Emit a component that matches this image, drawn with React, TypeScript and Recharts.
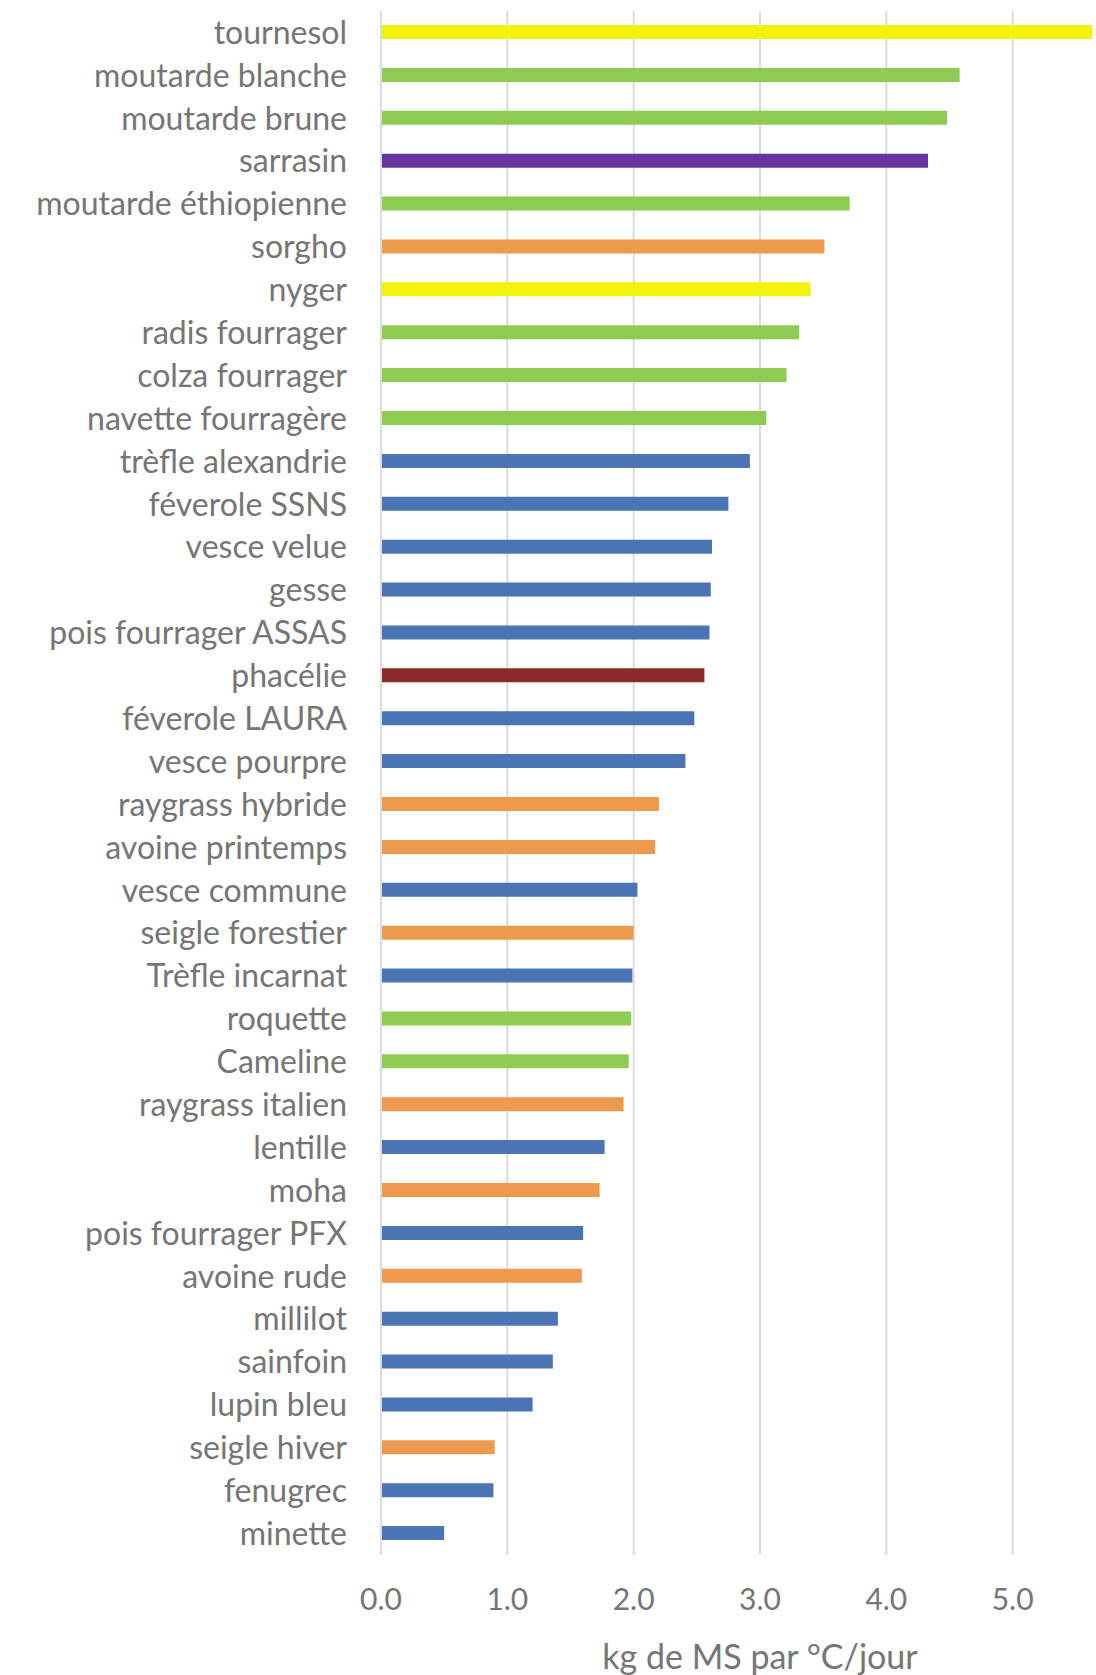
import { BarChart, Bar, XAxis, YAxis, CartesianGrid, Cell } from 'recharts';

const species = [
    'tournesol', 'moutarde blanche', 'moutarde brune', 'sarrasin', 'moutarde éthiopienne',
    'sorgho', 'nyger', 'radis fourrager', 'colza fourrager', 'navette fourragère',
    'trèfle alexandrie', 'féverole SSNS', 'vesce velue', 'gesse', 'pois fourrager ASSAS',
    'phacélie', 'féverole LAURA', 'vesce pourpre', 'raygrass hybride', 'avoine printemps',
    'vesce commune', 'seigle forestier', 'Trèfle incarnat', 'roquette', 'Cameline',
    'raygrass italien', 'lentille', 'moha', 'pois fourrager PFX', 'avoine rude',
    'millilot', 'sainfoin', 'lupin bleu', 'seigle hiver', 'fenugrec', 'minette',
];

// kg de MS par °C/jour
const growth = [
    5.63, 4.58, 4.48, 4.33, 3.71,
    3.51, 3.40, 3.31, 3.21, 3.05,
    2.92, 2.75, 2.62, 2.61, 2.60,
    2.56, 2.48, 2.41, 2.20, 2.17,
    2.03, 2.00, 1.99, 1.98, 1.96,
    1.92, 1.77, 1.73, 1.60, 1.59,
    1.40, 1.36, 1.20, 0.90, 0.89, 0.50,
];

const family = [
    'asteracee', 'crucifere', 'crucifere', 'polygonacee', 'crucifere',
    'graminee', 'asteracee', 'crucifere', 'crucifere', 'crucifere',
    'legumineuse', 'legumineuse', 'legumineuse', 'legumineuse', 'legumineuse',
    'hydrophyllacee', 'legumineuse', 'legumineuse', 'graminee', 'graminee',
    'legumineuse', 'graminee', 'legumineuse', 'crucifere', 'crucifere',
    'graminee', 'legumineuse', 'graminee', 'legumineuse', 'graminee',
    'legumineuse', 'legumineuse', 'legumineuse', 'graminee', 'legumineuse', 'legumineuse',
];

// the axis runs to 6.0 but the picture is cut just past 5.6
const xTicks = [0, 1, 2, 3, 4, 5];

const familyColors: Record<string, string> = {
    asteracee: '#f2f20f',
    crucifere: '#8ecb52',
    polygonacee: '#6633a0',
    graminee: '#ee9a4e',
    legumineuse: '#4a74b4',
    hydrophyllacee: '#8c2a2a',
};

const data = species.map((name, i) => ({ name, value: growth[i], family: family[i] }));

const textColor = '#757575';
const font = 'Lato, "Open Sans", sans-serif';

export default function App() {
    return (
        <div style={{ position: 'absolute', left: 0, top: 0, width: 1096, height: 1675, overflow: 'hidden', background: '#fff' }}>
            <BarChart
                width={1150}
                height={1675}
                data={data}
                layout="vertical"
                margin={{ top: 11, right: 11, bottom: 0, left: 0 }}
                barCategoryGap={0}
            >
                <CartesianGrid horizontal={false} vertical={true} stroke="#dcdcdc" strokeWidth={2} />
                <XAxis
                    type="number"
                    domain={[0, 6]}
                    ticks={xTicks}
                    tickFormatter={(v: number) => v.toFixed(1)}
                    axisLine={false}
                    tickLine={false}
                    tickSize={6}
                    tickMargin={28}
                    height={120}
                    tick={{ fill: textColor, fontSize: 30, fontFamily: font }}
                    label={{
                        value: 'kg de MS par °C/jour',
                        position: 'insideBottom',
                        offset: 6,
                        fill: textColor,
                        fontSize: 34,
                        fontFamily: font,
                    }}
                />
                <YAxis
                    type="category"
                    dataKey="name"
                    width={381}
                    interval={0}
                    axisLine={{ stroke: '#dcdcdc', strokeWidth: 2 }}
                    tickLine={false}
                    tickSize={6}
                    tickMargin={28}
                    tick={{ fill: textColor, fontSize: 32, fontFamily: font }}
                />
                <Bar dataKey="value" barSize={14} isAnimationActive={false}>
                    {data.map((d) => (
                        <Cell key={d.name} fill={familyColors[d.family]} />
                    ))}
                </Bar>
            </BarChart>
        </div>
    );
}
